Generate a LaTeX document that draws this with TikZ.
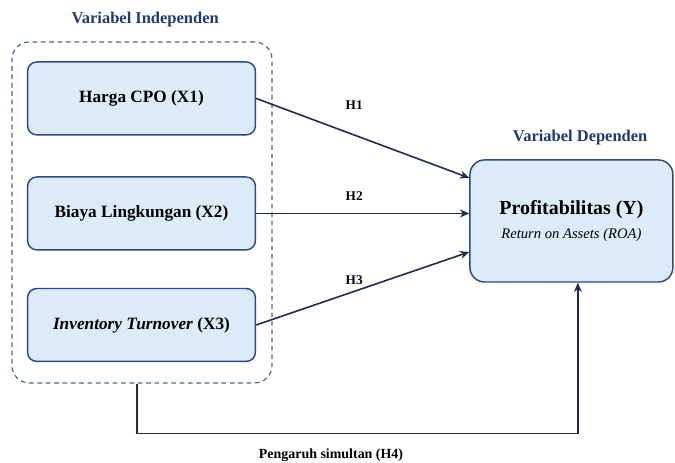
\documentclass[tikz,border=0pt]{standalone}
\usepackage{fontspec}
\setmainfont{Liberation Serif}
\usetikzlibrary{arrows.meta,positioning}
\definecolor{boxfill}{HTML}{DDEBF9}
\definecolor{boxline}{HTML}{2E4A7D}
\definecolor{navy}{HTML}{1F3A6E}
\definecolor{arrline}{HTML}{1E2B4D}
\begin{document}
\begin{tikzpicture}[
  var/.style={draw=boxline, fill=boxfill, line width=1.1pt, rounded corners=7pt, align=center,
    minimum width=6.03cm, minimum height=1.93cm, font=\fontsize{13}{15}\selectfont\bfseries},
  grp/.style={draw=boxline!85, dash pattern=on 3.5pt off 2.8pt, line width=0.9pt,
    rounded corners=13pt, minimum width=6.88cm, minimum height=9.02cm},
  ttl/.style={text=navy, font=\fontsize{12.4}{14}\selectfont\bfseries},
  hyp/.style={font=\fontsize{10}{12}\selectfont\bfseries},
  arr/.style={-{Stealth[length=7pt,width=6pt]}, draw=arrline, line width=1.2pt}]
\useasboundingbox (0,0) rectangle (17.86,12.25);
\node[grp] (indep) at (3.757,6.628) {};
\node[ttl] (tindep) at (3.84,11.72) {Variabel Independen};
\node[var] (x1) at (3.744,9.645) {Harga CPO (X1)};
\node[var] (x2) at (3.744,6.602) {Biaya Lingkungan (X2)};
\node[var] (x3) at (3.744,3.651) {\textit{Inventory Turnover} (X3)};
\node[var, minimum width=5.37cm, minimum height=3.23cm, rounded corners=11pt] (prof) at (15.12,6.403)
  {{\fontsize{15}{18}\selectfont Profitabilitas (Y)}\\[3pt]{\fontsize{11}{13}\selectfont\mdseries\itshape Return on Assets (ROA)}};
\node[ttl] (tdep) at (15.35,8.60) {Variabel Dependen};
\draw[arr] (x1.east) -- node[hyp, pos=0.46, yshift=0.79cm] {H1} ([yshift=1.14cm]prof.west);
\draw[arr] (x2.east) -- node[hyp, pos=0.46, yshift=0.45cm] {H2} (x2.east -| prof.west);
\draw[arr] (x3.east) -- node[hyp, pos=0.46, yshift=0.29cm] {H3} ([yshift=-0.82cm]prof.west);
\draw[arr] ([xshift=-0.13cm]indep.south) -- ++(0,-1.32) -| node[hyp, font=\fontsize{10.5}{12}\selectfont\bfseries, pos=0.22, yshift=-0.58cm] {Pengaruh simultan (H4)} ([xshift=0.17cm]prof.south);
\end{tikzpicture}
\end{document}
